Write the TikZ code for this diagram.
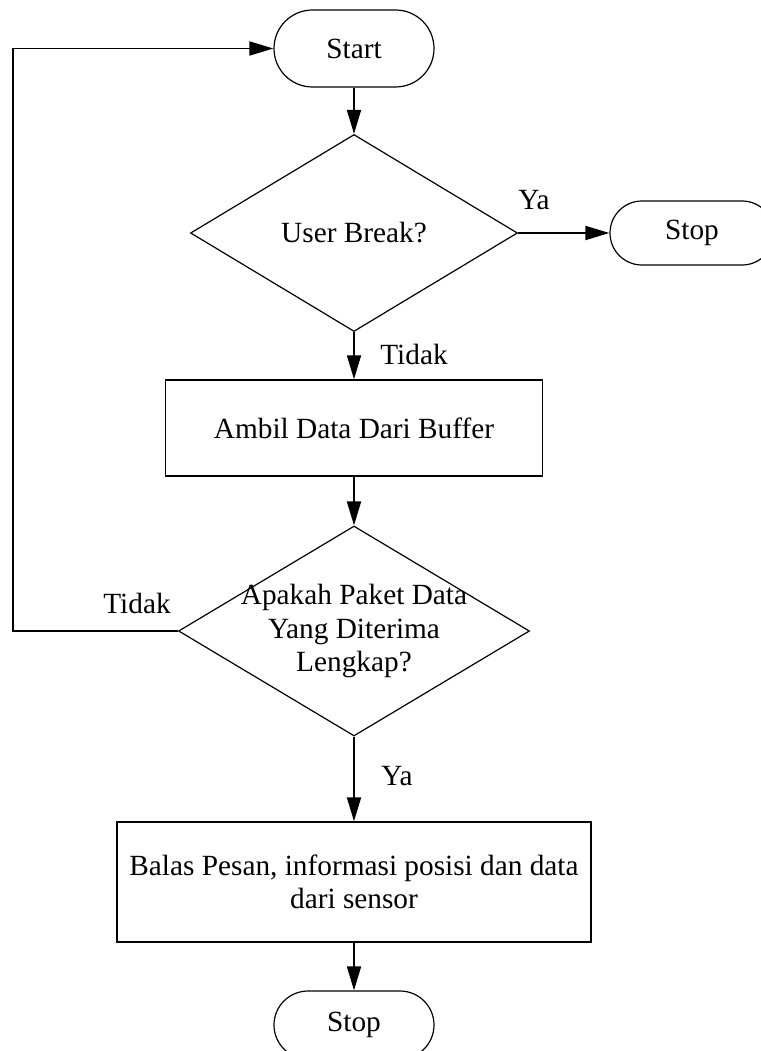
\documentclass[tikz,border=0pt]{standalone}
\usepackage{fontspec}
\setmainfont{Liberation Serif}
\usetikzlibrary{shapes.geometric,arrows.meta}
\begin{document}
\begin{tikzpicture}[x=1pt,y=-1pt,
  every node/.style={font=\fontsize{29.3}{33.5}\selectfont},
  term/.style={draw,line width=1.2pt,rounded corners=#1,inner sep=0pt},
  proc/.style={draw,line width=1.4pt,inner sep=0pt,align=center},
  dec/.style={draw,diamond,line width=1.2pt,inner sep=0pt},
  flow/.style={line width=1.8pt,-{Triangle[length=24pt,width=14pt]}}]
\useasboundingbox (0,0) rectangle (760,1051);

% shapes of the flowchart
\node[term=38.5pt, minimum width=160, minimum height=77] (start) at (354,48.5) {Start};
\node[dec, minimum width=327, minimum height=197,
      label=center:{User Break?}] (q1) at (354,233) {};
\node[term=32pt, minimum width=164, minimum height=64] (stop1) at (692,233) {Stop};
\node[proc, minimum width=377, minimum height=96] (get) at (354,428) {Ambil Data Dari Buffer};
\node[dec, minimum width=351, minimum height=210,
      label={[align=center]center:Apakah Paket Data\\Yang Diterima\\Lengkap?}] (q2) at (354,631) {};
\node[proc, minimum width=474, minimum height=120] (reply) at (354,882)
      {Balas Pesan, informasi posisi dan data\\dari sensor};
\node[term=34pt, minimum width=160, minimum height=68] (stop2) at (354,1025) {Stop};

% branch labels
\node (ya1) at (534,200) {Ya};
\node (tidak1) at (414,354) {Tidak};
\node (tidak2) at (137,603) {Tidak};
\node (ya2) at (397,776) {Ya};

% connectors
\coordinate (loop) at (13,631);
\draw[flow] (start) -- (q1);
\draw[flow] (q1.east) -- (stop1.west);
\draw[flow] (q1) -- (get);
\draw[flow] (get) -- (q2);
\draw[flow] (q2) -- (reply);
\draw[flow] (reply) -- (stop2);
\draw[flow] (q2.west) -- (loop) |- (start.west);
\end{tikzpicture}
\end{document}
